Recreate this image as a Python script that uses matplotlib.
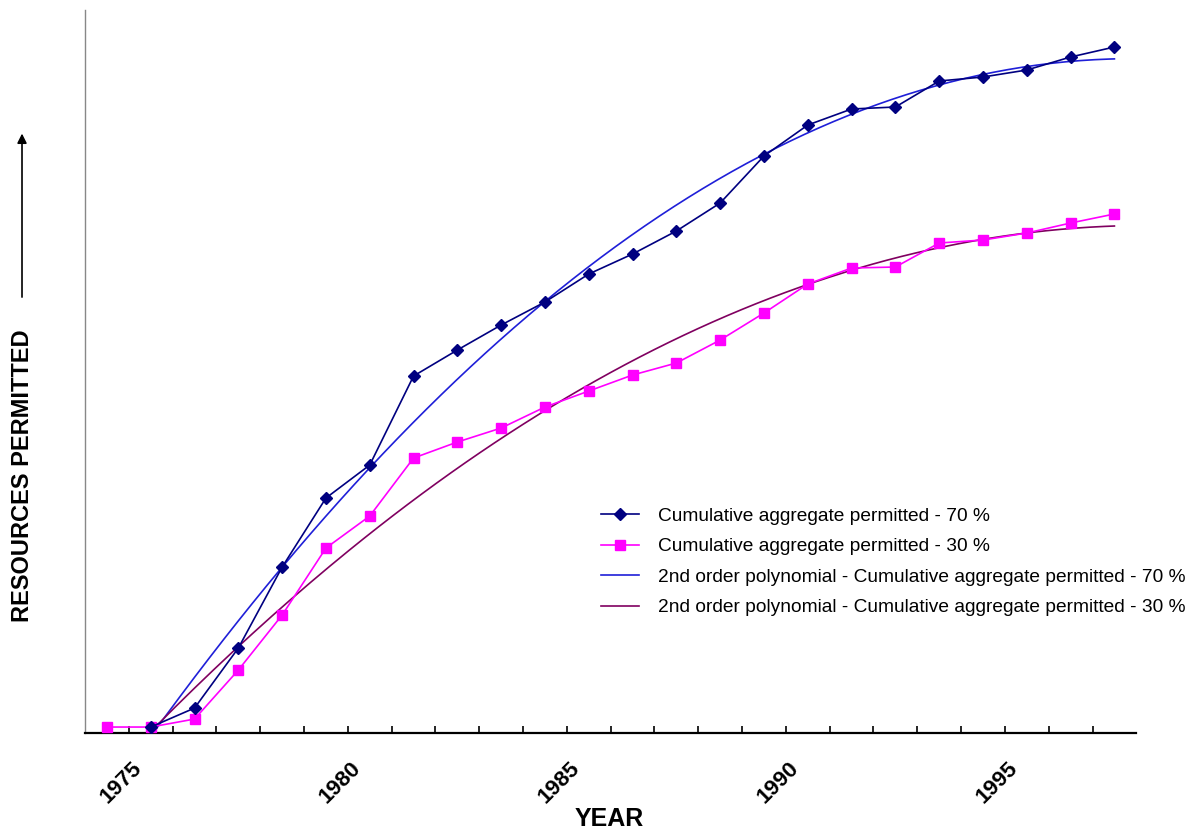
import numpy as np
import matplotlib
matplotlib.use('Agg')
import matplotlib.pyplot as plt

plt.rcParams['font.family'] = ['Liberation Sans', 'DejaVu Sans']

# one category per year, first category is 1974
years = np.arange(1974, 1998)
label_years = [1975, 1980, 1985, 1990, 1995]

# (arbitrary units, axis has no values)
agg_70 = [np.nan, 0, 19, 79, 160, 229, 262, 351, 377, 402, 425, 453,
          473, 496, 524, 571, 602, 618, 620, 646, 650, 657, 670, 680]
agg_30 = [0, 0, 8, 57, 112, 179, 211, 269, 285, 299, 320, 336,
          352, 364, 387, 414, 443, 459, 460, 484, 487, 494, 504, 513]

lbl_70 = 'Cumulative aggregate permitted - 70 %'
lbl_30 = 'Cumulative aggregate permitted - 30 %'
lbl_p70 = '2nd order polynomial - Cumulative aggregate permitted - 70 %'
lbl_p30 = '2nd order polynomial - Cumulative aggregate permitted - 30 %'

x = np.arange(len(years))
a70 = np.array(agg_70, dtype=float)
a30 = np.array(agg_30, dtype=float)

# trend lines fitted over 1975..1997
xf = x[1:]
c70 = np.polyfit(xf, a70[1:], 2)
c30 = np.polyfit(xf, a30[1:], 2)
xs = np.linspace(xf[0], xf[-1], 200)

fig = plt.figure(figsize=(11.96, 8.33), dpi=100)
ax = fig.add_axes([0.0711, 0.12, 0.879, 0.868])

ax.plot(x, a70, color='#000080', lw=1.2, marker='D', markersize=6, label=lbl_70, zorder=4)
ax.plot(x, a30, color='#FF00FF', lw=1.2, marker='s', markersize=7, label=lbl_30, zorder=3)
ax.plot(xs, np.polyval(c70, xs), color='#1F1FD8', lw=1.2, label=lbl_p70, zorder=2)
ax.plot(xs, np.clip(np.polyval(c30, xs), 0, None), color='#800060', lw=1.2,
        label=lbl_p30, zorder=2)

ax.set_xlim(-0.5, len(years) - 0.5)
ax.set_ylim(-6, 717)

# tick marks between categories, labels without marks
ax.set_xticks(x[:-1] + 0.5, minor=True)
ax.tick_params(axis='x', which='minor', length=5, width=1.2, direction='in', color='black')
ax.set_xticks([list(years).index(y) - 0.45 for y in label_years])
ax.set_xticklabels([str(y) for y in label_years], rotation=45, ha='right',
                   rotation_mode='anchor', fontsize=16, fontweight='bold')
ax.tick_params(axis='x', which='major', length=0, pad=18)
ax.set_yticks([])

for s in ['top', 'right']:
    ax.spines[s].set_visible(False)
ax.spines['bottom'].set_linewidth(1.6)
ax.spines['left'].set_color('#888888')
ax.spines['left'].set_linewidth(1.0)

fig.text(0.509, 0.002, 'YEAR', ha='center', va='bottom', fontsize=18, fontweight='bold')
fig.text(0.0184, 0.4286, 'RESOURCES PERMITTED', rotation=90, ha='center', va='center',
         fontsize=17, fontweight='bold')
fig.add_artist(matplotlib.patches.FancyArrowPatch((0.0184, 0.64), (0.0184, 0.843),
               transform=fig.transFigure, arrowstyle='-|>', mutation_scale=14,
               color='black', lw=1.2))

ax.legend(loc='upper left', bbox_to_anchor=(0.491, 0.312), frameon=False, fontsize=13.8,
          handlelength=1.95, labelspacing=0.68, handletextpad=1.0,
          borderpad=0, borderaxespad=0)

fig.savefig('out.png', dpi=100)
